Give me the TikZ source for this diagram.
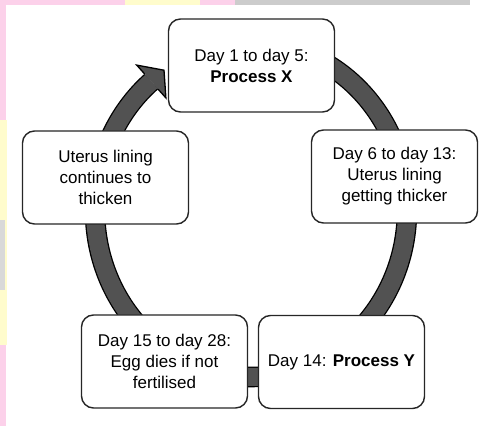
\documentclass[tikz,border=0pt]{standalone}
\usepackage{fontspec}
\setmainfont{Liberation Sans}
\begin{document}
\begin{tikzpicture}[x=1pt,y=1pt,
    box/.style={draw=black!85, line width=1.4pt, rounded corners=12pt, fill=white,
        minimum width=166pt, minimum height=93pt, align=center,
        font=\fontsize{17}{21}\selectfont},
    ring/.style={draw=black, line width=1.3pt, double=black!68, double distance=18pt},
    head/.style={fill=black!68}]
    \useasboundingbox (0,0) rectangle (483,426);
    % edges of the scan
    \fill[magenta!18] (0,0) rectangle (6,426);
    \fill[yellow!20] (0,81) rectangle (7,306);
    \fill[black!15] (0,136) rectangle (5,206);
    \fill[magenta!18] (0,421) rectangle (240,426);
    \fill[yellow!20] (125,421) rectangle (200,426);
    \fill[black!20] (235,421) rectangle (470,426);
    % the cycle
    \coordinate (top) at (251,383);
    \draw[ring] (top) arc[start angle=90, end angle=-230.3, x radius=156pt, y radius=167pt];
    \coordinate (tip) at (164,355.8);
    \coordinate (inc) at (165.9,328.1);
    \coordinate (outc) at (136.7,360.9);
    \coordinate (ins) at (158.1,336.8);
    \coordinate (outs) at (144.5,352.2);
    \fill[head] (inc) -- (tip) -- (outc) -- cycle;
    \draw[line width=1.3pt, line join=miter] (outs) -- (outc) -- (tip) -- (inc) -- (ins);
    % stages
    \node[box] (X) at (251.5,360.5) {Day 1 to day 5:\\\textbf{Process X}};
    \node[box] (B) at (394.5,249.5) {Day 6 to day 13:\\Uterus lining\\getting thicker};
    \node[box] (Y) at (341.5,64) {Day 14: \textbf{Process Y}};
    \node[box] (D) at (164.5,64.5) {Day 15 to day 28:\\Egg dies if not\\fertilised};
    \node[box] (E) at (105.5,248.5) {Uterus lining\\continues to\\thicken};
\end{tikzpicture}
\end{document}
